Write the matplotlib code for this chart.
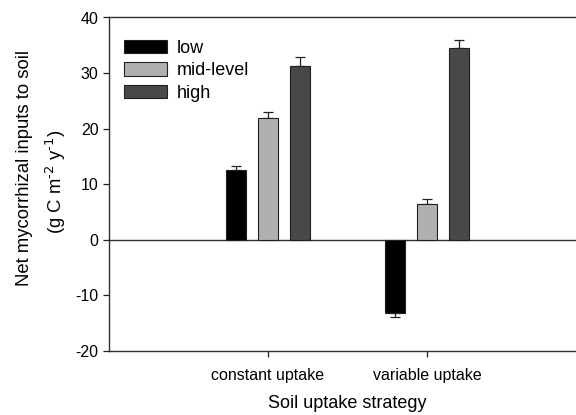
import numpy as np
import matplotlib
matplotlib.use("Agg")
import matplotlib.pyplot as plt

plt.rcParams['font.family'] = ['Liberation Sans', 'DejaVu Sans']
plt.rcParams['axes.unicode_minus'] = False

strategies = ["constant uptake", "variable uptake"]
levels = ["low", "mid-level", "high"]
colors = ["#000000", "#b0b0b0", "#484848"]

# net inputs per level, one value for each strategy
values = {
    "low": [12.5, -13.2],
    "mid-level": [22.0, 6.4],
    "high": [31.2, 34.5],
}
errors = {
    "low": [0.7, 0.6],
    "mid-level": [1.0, 0.9],
    "high": [1.7, 1.45],
}

fig = plt.figure(figsize=(5.76, 4.15), dpi=100)
# axes runs a little past the right edge of the figure, like the original
ax = fig.add_axes([109 / 576, 64 / 415, 477 / 576, 333.5 / 415])

x = np.arange(1, len(strategies) + 1)
width = 0.126
offsets = [-0.2, 0.0, 0.2]

for lvl, col, off in zip(levels, colors, offsets):
    vals = np.array(values[lvl])
    errs = np.array(errors[lvl])
    # one-sided error bars, pointing away from zero
    lower = np.where(vals < 0, errs, 0)
    upper = np.where(vals >= 0, errs, 0)
    ax.bar(x + off, vals, width, color=col, edgecolor="#202020", linewidth=0.8,
           label=lvl, zorder=3)
    ax.errorbar(x + off, vals, yerr=[lower, upper], fmt="none", ecolor="#202020",
                elinewidth=0.9, capsize=3.6, capthick=0.9, zorder=2)

ax.axhline(0, color="#303030", linewidth=1.0, zorder=1)

ax.set_xlim(0, 3)
ax.set_ylim(-20, 40)
ax.set_yticks([-20, -10, 0, 10, 20, 30, 40])
ax.set_xticks(x)
ax.set_xticklabels(strategies, fontsize=11.5)
ax.tick_params(axis="y", labelsize=11.5, direction="out", length=4.5, width=0.9,
               colors="#202020", pad=3)
ax.tick_params(axis="x", direction="out", length=4, width=0.9, colors="#202020", pad=8)
for lbl in ax.get_xticklabels() + ax.get_yticklabels():
    lbl.set_color("black")

for side in ["left", "bottom", "top"]:
    ax.spines[side].set_color("#303030")
    ax.spines[side].set_linewidth(1.0)
ax.spines["right"].set_visible(False)

ax.set_xlabel("Soil uptake strategy", fontsize=13, labelpad=9)
fig.text(25 / 576, 1 - 168 / 415, "Net mycorrhizal inputs to soil", rotation=90,
         ha="center", va="center", fontsize=13.3)
fig.text(56 / 576, 1 - 182 / 415, r"(g C m$^{\text{-2}}$ y$^{\text{-1}}$)",
         rotation=90, ha="center", va="center", fontsize=13.3)

ax.legend(loc="upper left", bbox_to_anchor=(0.031, 0.933), frameon=False,
          fontsize=13, handlelength=2.4, handleheight=0.75, handletextpad=0.55,
          labelspacing=0.3, borderpad=0, borderaxespad=0)

fig.savefig("out.png", dpi=100)
